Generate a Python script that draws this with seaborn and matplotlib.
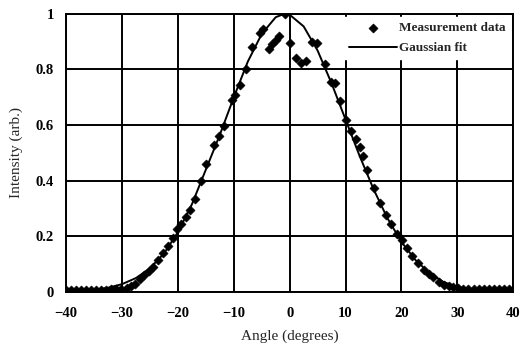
import numpy as np
import pandas as pd
import seaborn as sns
import matplotlib.pyplot as plt

meas_angle = [-40, -39.1, -38.2, -37.3, -36.4, -35.5, -34.6, -33.7, -32.8, -31.9, -31.0,
              -30.1, -29.2, -28.4, -27.7, -26.8, -26.0, -25.2, -24.4, -23.5, -22.6,
              -21.7, -20.8, -20.1, -19.4, -18.6, -17.8, -16.9, -15.9, -14.9, -13.6,
              -12.6, -11.7, -10.3, -9.8, -8.9, -7.9, -6.8, -5.3, -4.8, -3.7, -3.1,
              -2.5, -1.9, -0.9, 0.0, 1.2, 2.0, 2.9, 4.0, 4.9, 6.3, 7.4, 8.1, 9.0,
              10.1, 11.0, 11.8, 12.6, 13.2, 13.9, 15.1, 16.2, 17.2, 18.2, 19.2,
              20.1, 21.0, 21.9, 22.9, 24.0, 24.9, 25.7, 26.7, 27.6, 28.5, 29.3,
              30.2, 31.1, 32.0, 32.9, 33.8, 34.7, 35.6, 36.5, 37.4, 38.3, 39.2, 40.0]
meas_int = [0.006, 0.006, 0.007, 0.006, 0.007, 0.007, 0.008, 0.007, 0.008, 0.009, 0.010,
            0.012, 0.015, 0.020, 0.030, 0.045, 0.060, 0.075, 0.090, 0.115, 0.140,
            0.165, 0.195, 0.225, 0.245, 0.270, 0.295, 0.335, 0.400, 0.460, 0.530,
            0.560, 0.595, 0.690, 0.710, 0.745, 0.800, 0.880, 0.930, 0.945, 0.875, 0.890,
            0.905, 0.920, 1.000, 0.895, 0.840, 0.825, 0.830, 0.900, 0.895, 0.820, 0.755, 0.750, 0.685,
            0.620, 0.577, 0.550, 0.520, 0.490, 0.440, 0.372, 0.320, 0.275, 0.245, 0.210,
            0.187, 0.157, 0.130, 0.105, 0.079, 0.064, 0.052, 0.035, 0.025, 0.020, 0.016,
            0.013, 0.012, 0.012, 0.011, 0.011, 0.010, 0.010, 0.010, 0.009, 0.009, 0.009, 0.008]

# fitted curve
fit_angle = [-40, -37.5, -35, -32.5, -30, -27.5, -25, -22.5, -20, -17.5, -15, -12.5, -10,
             -7.5, -5, -2.5, -1, 0, 2.5, 5, 7.5, 10, 12.5, 15, 17.5, 20, 22.5, 25,
             27.5, 30, 32.5, 35, 37.5, 40]
fit_int = [0.002, 0.004, 0.007, 0.015, 0.028, 0.050, 0.085, 0.138, 0.215, 0.315, 0.440,
           0.565, 0.700, 0.828, 0.928, 0.988, 1.000, 0.997, 0.955, 0.868, 0.750, 0.620,
           0.490, 0.370, 0.265, 0.180, 0.115, 0.068, 0.036, 0.018, 0.009, 0.005, 0.002, 0.001]

x_ticks = [-40, -30, -20, -10, 0, 10, 20, 30, 40]
y_ticks = [0, 0.2, 0.4, 0.6, 0.8, 1]
y_labels = ['0', '0.2', '0.4', '0.6', '0.8', '1']

meas = pd.DataFrame({'angle': meas_angle, 'intensity': meas_int})
fit = pd.DataFrame({'angle': fit_angle, 'intensity': fit_int})

sns.set_style("white")
plt.rcParams['font.family'] = ['Liberation Serif', 'DejaVu Serif']

fig = plt.figure(figsize=(5.21, 3.56), dpi=100)
ax = fig.add_axes([0.127, 0.180, 0.858, 0.781])

sns.lineplot(data=fit, x='angle', y='intensity', ax=ax, color='black', lw=1.4,
             label='Gaussian fit', zorder=3)
sns.scatterplot(data=meas, x='angle', y='intensity', ax=ax, marker='D', s=22,
                color='black', edgecolor='black', label='Measurement data', zorder=4)

ax.set_xlim(-40, 40)
ax.set_ylim(0, 1)
ax.set_xticks(x_ticks)
ax.set_yticks(y_ticks)
ax.set_yticklabels(y_labels)
ax.grid(True, color='black', lw=1.4)
ax.set_axisbelow(True)
for s in ax.spines.values():
    s.set_color('black')
    s.set_linewidth(1.4)
    s.set_zorder(6)
ax.tick_params(direction='out', length=4, width=1, colors='black', labelsize=10.5)
ax.tick_params(axis='x', pad=7)
ax.tick_params(axis='y', pad=5)
for lab in ax.get_xticklabels() + ax.get_yticklabels():
    lab.set_fontweight('bold')

ax.set_xlabel('Angle (degrees)', fontsize=11, labelpad=7)
ax.set_ylabel('Intensity (arb.)', fontsize=11, labelpad=9)

handles, labels = ax.get_legend_handles_labels()
order = [labels.index('Measurement data'), labels.index('Gaussian fit')]
leg = ax.legend([handles[i] for i in order], [labels[i] for i in order],
                loc='upper right', frameon=True, fancybox=False, framealpha=1,
                edgecolor='white', facecolor='white', fontsize=9.5,
                handlelength=3.6, handletextpad=0.15, borderaxespad=0.2,
                labelspacing=0.6)
for t in leg.get_texts():
    t.set_fontweight('bold')

plt.savefig('out.png', dpi=100)
